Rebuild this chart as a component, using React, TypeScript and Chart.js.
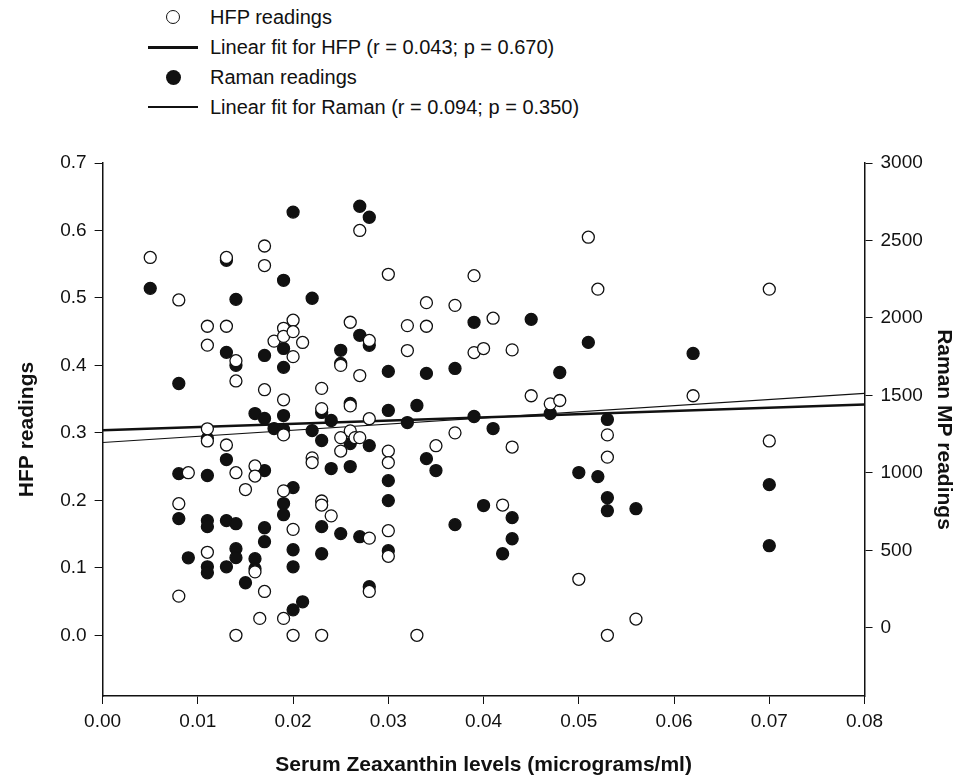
import { useEffect, useRef } from "react";
import { Chart, registerables } from "chart.js";

Chart.register(...registerables);

// HFP readings (open circles): [serum zeaxanthin, HFP]
const hfpPoints: number[][] = [
  [0.005, 0.56], [0.008, 0.497], [0.008, 0.195], [0.008, 0.058], [0.009, 0.241],
  [0.011, 0.458], [0.011, 0.43], [0.011, 0.306], [0.011, 0.288], [0.011, 0.123],
  [0.013, 0.56], [0.013, 0.458], [0.013, 0.282], [0.014, 0.407], [0.014, 0.377],
  [0.014, 0.241], [0.014, 0], [0.015, 0.216], [0.016, 0.251], [0.016, 0.236],
  [0.016, 0.094], [0.0165, 0.025], [0.017, 0.577], [0.017, 0.548], [0.017, 0.364],
  [0.017, 0.065], [0.018, 0.436], [0.019, 0.455], [0.019, 0.443], [0.019, 0.349],
  [0.019, 0.297], [0.019, 0.214], [0.019, 0.025], [0.02, 0.467], [0.02, 0.45],
  [0.02, 0.413], [0.02, 0.157], [0.02, 0], [0.021, 0.434], [0.022, 0.263],
  [0.022, 0.256], [0.023, 0.366], [0.023, 0.336], [0.023, 0.199], [0.023, 0.193],
  [0.023, 0], [0.024, 0.177], [0.025, 0.293], [0.025, 0.4], [0.025, 0.273],
  [0.026, 0.464], [0.026, 0.34], [0.026, 0.303], [0.0265, 0.293], [0.027, 0.6],
  [0.027, 0.385], [0.027, 0.293], [0.028, 0.437], [0.028, 0.321], [0.028, 0.144],
  [0.028, 0.065], [0.03, 0.535], [0.03, 0.273], [0.03, 0.256], [0.03, 0.155],
  [0.03, 0.117], [0.032, 0.459], [0.032, 0.422], [0.033, 0], [0.034, 0.493],
  [0.034, 0.458], [0.035, 0.281], [0.037, 0.489], [0.037, 0.3], [0.039, 0.533],
  [0.039, 0.419], [0.04, 0.425], [0.041, 0.47], [0.042, 0.193], [0.043, 0.423],
  [0.043, 0.279], [0.045, 0.355], [0.047, 0.343], [0.048, 0.348], [0.05, 0.083],
  [0.051, 0.59], [0.052, 0.513], [0.053, 0.297], [0.053, 0.264], [0.053, 0],
  [0.056, 0.024], [0.062, 0.355], [0.07, 0.513], [0.07, 0.288],
];

// Raman readings (filled circles): [serum zeaxanthin, Raman MP]
const ramanPoints: number[][] = [
  [0.005, 2191], [0.008, 1577], [0.008, 995], [0.008, 705], [0.009, 452],
  [0.011, 1222], [0.011, 983], [0.011, 692], [0.011, 653], [0.011, 394],
  [0.011, 355], [0.013, 2372], [0.013, 1778], [0.013, 1086], [0.013, 692],
  [0.013, 394], [0.014, 2120], [0.014, 1694], [0.014, 672], [0.014, 511],
  [0.014, 453], [0.015, 291], [0.016, 1383], [0.016, 446], [0.016, 381],
  [0.017, 1758], [0.017, 1351], [0.017, 1015], [0.017, 646], [0.017, 556],
  [0.018, 1286], [0.019, 2243], [0.019, 1803], [0.019, 1681], [0.019, 1370],
  [0.019, 1280], [0.019, 802], [0.019, 730], [0.02, 2683], [0.02, 905],
  [0.02, 504], [0.02, 394], [0.02, 116], [0.021, 168], [0.022, 2127],
  [0.022, 1273], [0.023, 1390], [0.023, 1209], [0.023, 653], [0.023, 478],
  [0.024, 1338], [0.024, 1028], [0.025, 1791], [0.025, 1707], [0.025, 608],
  [0.026, 1448], [0.026, 1189], [0.026, 1041], [0.027, 2721], [0.027, 1888],
  [0.027, 588], [0.028, 2650], [0.028, 1823], [0.028, 1176], [0.028, 265],
  [0.03, 1655], [0.03, 1403], [0.03, 950], [0.03, 821], [0.03, 498],
  [0.032, 1325], [0.033, 1435], [0.034, 1642], [0.034, 1092], [0.035, 1015],
  [0.037, 1674], [0.037, 666], [0.039, 1972], [0.039, 1364], [0.04, 789],
  [0.041, 1286], [0.042, 478], [0.043, 711], [0.043, 575], [0.045, 1991],
  [0.047, 1383], [0.048, 1648], [0.05, 1002], [0.051, 1842], [0.052, 976],
  [0.053, 1345], [0.053, 840], [0.053, 756], [0.056, 769], [0.062, 1771],
  [0.07, 924], [0.07, 530],
];

// fitted line end points (x = 0 and x = 0.08)
const hfpFit: number[][] = [[0, 0.304], [0.08, 0.342]];
const ramanFit: number[][] = [[0, 1196], [0.08, 1513]];

const xTicks = [0, 0.01, 0.02, 0.03, 0.04, 0.05, 0.06, 0.07, 0.08];
const hfpTicks = [0, 0.1, 0.2, 0.3, 0.4, 0.5, 0.6, 0.7];
const ramanTicks = [0, 500, 1000, 1500, 2000, 2500, 3000];

const FONT = "'Liberation Sans', Arial, sans-serif";
const toXY = (pts: number[][]) => pts.map(([x, y]) => ({ x, y }));

export default function App() {
  const canvasRef = useRef<HTMLCanvasElement>(null);
  const chartRef = useRef<Chart | null>(null);

  useEffect(() => {
    if (!canvasRef.current) return;
    chartRef.current?.destroy();
    const tickFont = { family: FONT, size: 19 };
    const titleFont = { family: FONT, size: 21, weight: "bold" as const };
    chartRef.current = new Chart(canvasRef.current, {
      type: "scatter",
      data: {
        datasets: [
          {
            label: "HFP readings",
            data: toXY(hfpPoints),
            yAxisID: "y",
            backgroundColor: "#fff",
            borderColor: "#111",
            borderWidth: 1.3,
            pointRadius: 6,
          },
          {
            label: "Raman readings",
            data: toXY(ramanPoints),
            yAxisID: "y1",
            backgroundColor: "#111",
            borderColor: "#111",
            borderWidth: 1.3,
            pointRadius: 6,
          },
          {
            type: "line",
            label: "Linear fit for HFP",
            data: toXY(hfpFit),
            yAxisID: "y",
            borderColor: "#111",
            borderWidth: 2.5,
            pointRadius: 0,
          },
          {
            type: "line",
            label: "Linear fit for Raman",
            data: toXY(ramanFit),
            yAxisID: "y1",
            borderColor: "#111",
            borderWidth: 1.2,
            pointRadius: 0,
          },
        ],
      },
      options: {
        animation: false,
        responsive: true,
        maintainAspectRatio: false,
        layout: { padding: { top: 25, left: 11, right: 5, bottom: 6 } },
        plugins: { legend: { display: false }, tooltip: { enabled: false } },
        scales: {
          x: {
            type: "linear",
            min: 0,
            max: 0.08,
            afterBuildTicks: (s: any) => { s.ticks = xTicks.map((v) => ({ value: v })); },
            ticks: { color: "#111", font: tickFont, padding: 6, callback: (v: any) => Number(v).toFixed(2) },
            grid: { drawOnChartArea: false, color: "#111", tickLength: 8 },
            border: { color: "#111", width: 1.5 },
            title: { display: true, text: "Serum Zeaxanthin levels (micrograms/ml)", color: "#111", font: titleFont, padding: { top: 14, bottom: 0 } },
          },
          y: {
            position: "left",
            min: -0.09,
            max: 0.7,
            afterBuildTicks: (s: any) => { s.ticks = hfpTicks.map((v) => ({ value: v })); },
            ticks: { color: "#111", font: tickFont, padding: 8, callback: (v: any) => Number(v).toFixed(1) },
            grid: { drawOnChartArea: false, color: "#111", tickLength: 8 },
            border: { color: "#111", width: 1.5 },
            title: { display: true, text: "HFP readings", color: "#111", font: titleFont, padding: { bottom: 12 } },
          },
          y1: {
            position: "right",
            min: -440,
            max: 3000,
            afterBuildTicks: (s: any) => { s.ticks = ramanTicks.map((v) => ({ value: v })); },
            ticks: { color: "#111", font: tickFont, padding: 8, callback: (v: any) => String(v) },
            grid: { drawOnChartArea: false, color: "#111", tickLength: 8 },
            border: { color: "#111", width: 1.5 },
            title: { display: true, text: "Raman MP readings", color: "#111", font: titleFont, padding: { top: 8, bottom: 0 } },
          },
        },
      },
    });
    return () => { chartRef.current?.destroy(); chartRef.current = null; };
  }, []);

  const row = { display: "flex", alignItems: "center", height: 30 } as const;
  const sym = { width: 50, display: "flex", justifyContent: "center", marginRight: 12 } as const;

  return (
    <div style={{ position: "relative", width: 969, height: 784, margin: -8, background: "#fff", fontFamily: FONT, color: "#111" }}>
      <div style={{ position: "absolute", left: 148, top: 2, fontSize: 20 }}>
        <div style={row}><span style={sym}><span style={{ width: 12, height: 12, border: "1.5px solid #111", borderRadius: "50%" }} /></span>HFP readings</div>
        <div style={row}><span style={sym}><span style={{ width: 50, height: 3, background: "#111" }} /></span>Linear fit for HFP (r = 0.043; p = 0.670)</div>
        <div style={row}><span style={sym}><span style={{ width: 15, height: 15, background: "#111", borderRadius: "50%" }} /></span>Raman readings</div>
        <div style={row}><span style={sym}><span style={{ width: 50, height: 1.2, background: "#111" }} /></span>Linear fit for Raman (r = 0.094; p = 0.350)</div>
      </div>
      <div style={{ position: "absolute", left: 0, top: 138, width: 969, height: 646 }}>
        <canvas ref={canvasRef} />
      </div>
    </div>
  );
}
